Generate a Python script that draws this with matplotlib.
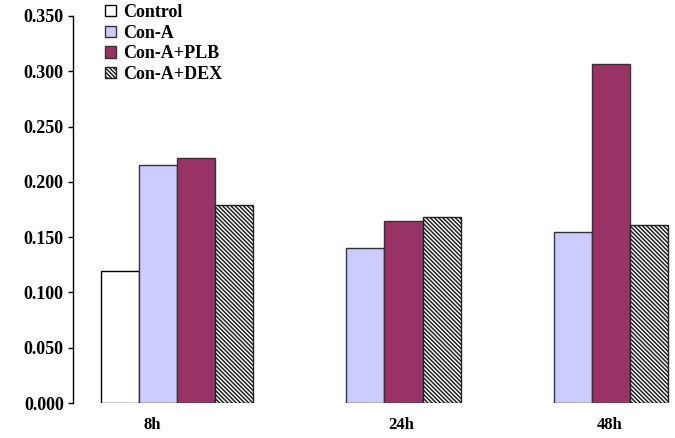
import matplotlib
matplotlib.use("Agg")
import matplotlib.pyplot as plt
import numpy as np

plt.rcParams['font.family'] = ['Liberation Serif', 'DejaVu Serif']
plt.rcParams['font.weight'] = 'bold'
plt.rcParams['hatch.linewidth'] = 1.1

categories = ["8h", "24h", "48h"]
series_names = ["Control", "Con-A", "Con-A+PLB", "Con-A+DEX"]
control = [0.119, 0.0, 0.0]
con_a = [0.215, 0.140, 0.155]
con_a_plb = [0.222, 0.165, 0.307]
con_a_dex = [0.179, 0.168, 0.161]
y_ticks = [0.0, 0.05, 0.10, 0.15, 0.20, 0.25, 0.30, 0.35]
label_offsets = [-0.117, 0.078, 0.082]

W, H = 675, 438
fig = plt.figure(figsize=(W/100, H/100), dpi=100)
ax = fig.add_axes([73/W, 1-403/H, (696-73)/W, (403-16)/H])

x = np.arange(len(categories))
w = 0.183
styles = [
    dict(color="white", edgecolor="black", hatch=None),
    dict(color="#CCCCFF", edgecolor="#333333", hatch=None),
    dict(color="#993366", edgecolor="#333333", hatch=None),
    dict(color="white", edgecolor="#222222", hatch="\\" * 8),
]
data = [control, con_a, con_a_plb, con_a_dex]
for i, (vals, name, st) in enumerate(zip(data, series_names, styles)):
    vals = np.array(vals)
    mask = vals > 0
    pos = x + (i - 1.5) * w
    ax.bar(pos[mask], vals[mask], width=w, facecolor=st["color"],
           edgecolor=st["edgecolor"], hatch=st["hatch"], linewidth=1.0,
           label=name)

ax.set_xlim(-0.5, 2.5)
ax.set_ylim(0, 0.35)
ax.set_yticks(y_ticks)
ax.set_yticklabels([f"{v:.3f}" for v in y_ticks], fontsize=13, fontweight='bold')
ax.set_xticks(x + np.array(label_offsets))
ax.set_xticklabels(categories, fontsize=12, fontweight='bold')
ax.tick_params(axis='x', length=0, pad=10)
ax.tick_params(axis='y', length=3.6, direction='out', pad=3, width=1.0)
for s in ["top", "right", "bottom"]:
    ax.spines[s].set_visible(False)
ax.spines["left"].set_linewidth(1.0)

leg = fig.legend(loc="upper left", bbox_to_anchor=(105/W, 1-4/H),
                 bbox_transform=fig.transFigure, frameon=False,
                 prop={'weight': 'bold', 'size': 13}, handlelength=0.6,
                 handleheight=0.6, handletextpad=0.4, labelspacing=0.2,
                 borderaxespad=0, borderpad=0)

fig.savefig("out.png", dpi=100)
